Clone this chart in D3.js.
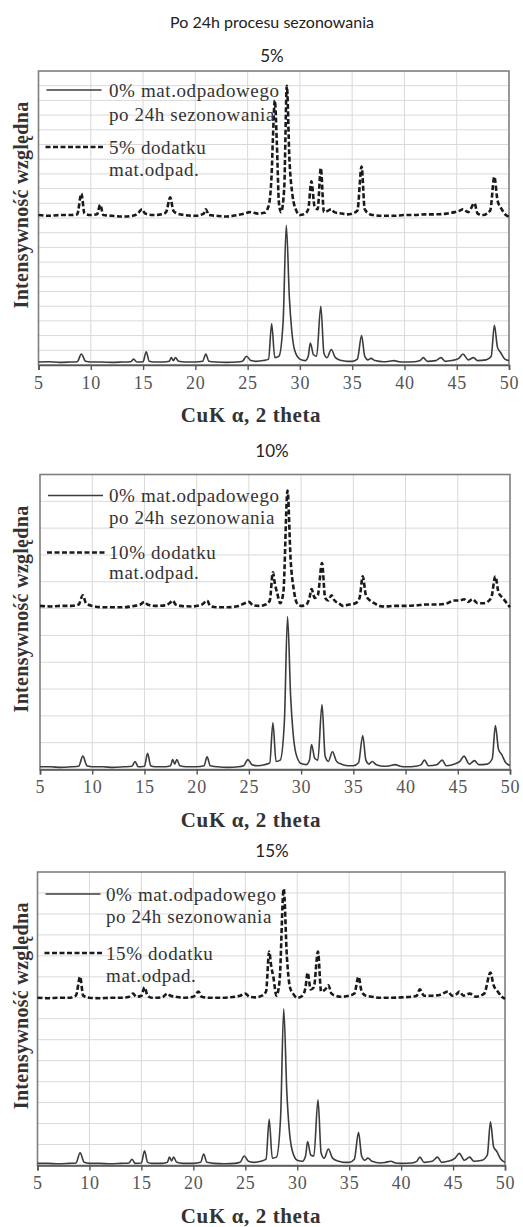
<!DOCTYPE html>
<html><head><meta charset="utf-8">
<script src="https://cdn.jsdelivr.net/npm/d3@7/dist/d3.min.js"></script>
<style>body{margin:0;background:#fff}svg{display:block}</style>
</head><body>
<script>
// ---------- DATA ----------
const mainTitle = "Po 24h procesu sezonowania";
const panelTitles = ["5%", "10%", "15%"];
const xTicks = [5, 10, 15, 20, 25, 30, 35, 40, 45, 50];
const xLabel = "CuK α, 2 theta";
const yLabel = "Intensywność względna";
const legendSolid = ["0% mat.odpadowego", "po 24h sezonowania"];
const legendDashed = [["5% dodatku", "mat.odpad."], ["10% dodatku", "mat.odpad."], ["15% dodatku", "mat.odpad."]];
const yMaxes = [20, 11, 14];

const solid5 = [[5,0.2],[6,0.22],[7,0.18],[8,0.2],[8.7,0.22],[9.1,0.75],[9.5,0.25],[10,0.2],[11,0.2],[12,0.18],[13,0.2],[13.8,0.22],[14.1,0.4],[14.4,0.2],[15,0.22],[15.3,0.9],[15.6,0.25],[16,0.2],[17,0.2],[17.5,0.25],[17.7,0.5],[17.9,0.3],[18.1,0.5],[18.4,0.25],[19,0.2],[20,0.2],[20.7,0.25],[21.0,0.75],[21.3,0.25],[22,0.2],[23,0.18],[24,0.2],[24.5,0.25],[24.9,0.6],[25.3,0.3],[25.8,0.25],[26.5,0.3],[27,0.4],[27.3,2.8],[27.6,0.5],[28.0,0.6],[28.4,3],[28.7,9.5],[29.0,4.5],[29.2,2.5],[29.5,1.0],[30,0.4],[30.5,0.3],[30.8,0.6],[31.0,1.5],[31.3,0.7],[31.6,0.6],[32.0,4.0],[32.3,0.8],[32.6,0.5],[33.0,1.05],[33.4,0.5],[34,0.3],[34.5,0.25],[35,0.25],[35.5,0.4],[35.9,2.0],[36.2,0.6],[36.5,0.35],[36.8,0.45],[37.2,0.3],[38,0.22],[38.5,0.25],[39,0.3],[39.5,0.22],[40,0.2],[41,0.22],[41.5,0.3],[41.8,0.5],[42.2,0.25],[43,0.3],[43.5,0.5],[43.9,0.25],[44.5,0.3],[45.2,0.45],[45.6,0.75],[46.1,0.35],[46.6,0.5],[47,0.3],[47.8,0.35],[48.3,0.6],[48.6,2.7],[48.9,1.2],[49.2,0.85],[49.6,0.4],[50,0.3]];
const dashed5 = [[5,10.2],[6,10.15],[7,10.2],[8,10.2],[8.7,10.25],[9.1,11.65],[9.4,10.3],[10,10.2],[10.6,10.25],[10.9,10.9],[11.2,10.2],[12,10.15],[13,10.1],[14,10.15],[14.5,10.3],[14.9,10.6],[15.2,10.3],[16,10.2],[16.8,10.25],[17.2,10.4],[17.6,11.4],[17.9,10.5],[18.3,10.3],[19,10.2],[20,10.15],[20.8,10.3],[21.0,10.6],[21.3,10.2],[22,10.15],[23,10.1],[24,10.2],[24.7,10.3],[25.2,10.4],[26,10.3],[26.6,10.35],[27.0,10.8],[27.3,13],[27.4,15],[27.6,18.0],[27.8,15],[28.0,11],[28.2,10.4],[28.5,12],[28.75,19.0],[29.0,14],[29.3,11.5],[29.6,10.6],[30,10.2],[30.5,10.3],[30.8,10.6],[31.1,12.5],[31.4,10.8],[31.7,10.6],[32.0,13.4],[32.3,10.4],[32.7,10.5],[33.0,10.6],[33.3,10.4],[34,10.3],[34.5,10.25],[35.0,10.3],[35.5,10.5],[35.9,13.5],[36.2,10.6],[36.6,10.3],[37,10.2],[38,10.15],[39,10.15],[40,10.2],[41,10.2],[42,10.25],[43,10.25],[44,10.3],[44.8,10.4],[45.3,10.5],[45.6,10.6],[46.1,10.4],[46.7,11.0],[47.0,10.3],[47.5,10.2],[48.2,10.5],[48.6,12.8],[48.9,11.2],[49.3,10.6],[49.7,10.2],[50,10.1]];

const solid10 = [[5,0.1],[6,0.1],[7,0.08],[8,0.1],[8.7,0.12],[9.1,0.5],[9.5,0.14],[10,0.1],[11,0.1],[12,0.08],[13,0.1],[13.8,0.12],[14.1,0.3],[14.4,0.1],[15,0.12],[15.3,0.6],[15.6,0.14],[16,0.1],[17,0.1],[17.5,0.14],[17.7,0.37],[17.9,0.2],[18.1,0.37],[18.4,0.14],[19,0.1],[20,0.1],[20.7,0.14],[21.0,0.47],[21.3,0.14],[22,0.1],[23,0.08],[24,0.1],[24.5,0.14],[24.9,0.37],[25.3,0.18],[25.8,0.14],[26.5,0.18],[27,0.25],[27.3,1.74],[27.6,0.3],[28.0,0.35],[28.4,1.8],[28.7,5.7],[29.0,2.7],[29.2,1.5],[29.5,0.6],[30,0.22],[30.5,0.18],[30.8,0.35],[31.0,0.93],[31.3,0.42],[31.6,0.35],[32.0,2.42],[32.3,0.5],[32.6,0.3],[33.0,0.66],[33.4,0.3],[34,0.18],[34.5,0.14],[35,0.14],[35.5,0.25],[35.9,1.27],[36.2,0.35],[36.5,0.2],[36.8,0.3],[37.2,0.18],[38,0.12],[38.5,0.14],[39,0.18],[39.5,0.12],[40,0.1],[41,0.12],[41.5,0.18],[41.8,0.35],[42.2,0.14],[43,0.18],[43.5,0.35],[43.9,0.14],[44.5,0.18],[45.2,0.3],[45.6,0.5],[46.1,0.2],[46.6,0.33],[47,0.18],[47.8,0.2],[48.3,0.4],[48.6,1.64],[48.9,0.75],[49.2,0.56],[49.6,0.25],[50,0.15]];
const dashed10 = [[5,6.1],[6,6.08],[7,6.1],[8,6.1],[8.7,6.15],[9.1,6.5],[9.4,6.2],[10,6.1],[11,6.05],[12,6.05],[13,6.05],[14,6.1],[14.6,6.15],[15.0,6.25],[15.3,6.15],[16,6.1],[17,6.12],[17.4,6.2],[17.7,6.3],[18.0,6.15],[18.5,6.1],[19.5,6.08],[20.5,6.15],[21,6.3],[21.3,6.1],[22,6.05],[23,6.05],[24,6.1],[24.6,6.2],[25.0,6.25],[25.4,6.12],[26,6.1],[26.6,6.15],[27.0,6.3],[27.3,7.35],[27.5,6.9],[27.7,6.6],[28.0,6.2],[28.3,6.6],[28.7,10.4],[29.0,7.8],[29.3,6.7],[29.6,6.2],[30,6.1],[30.5,6.15],[30.8,6.4],[31.0,6.73],[31.3,6.4],[31.6,6.5],[32.0,7.7],[32.3,6.4],[32.6,6.3],[32.9,6.5],[33.2,6.3],[33.6,6.2],[34,6.1],[34.6,6.15],[35.2,6.2],[35.6,6.4],[35.9,7.2],[36.2,6.5],[36.6,6.3],[37,6.2],[37.5,6.1],[38,6.08],[39,6.1],[40,6.1],[41,6.12],[42,6.15],[43,6.15],[44,6.2],[44.6,6.3],[45.2,6.3],[45.6,6.35],[46.0,6.25],[46.4,6.35],[46.9,6.2],[47.5,6.2],[48.2,6.4],[48.6,7.2],[48.9,6.6],[49.3,6.4],[49.7,6.2],[50,6.05]];

const solid15 = [[5,0.1],[6,0.1],[7,0.08],[8,0.1],[8.7,0.12],[9.1,0.6],[9.5,0.15],[10,0.1],[11,0.1],[12,0.08],[13,0.1],[13.8,0.12],[14.1,0.3],[14.4,0.1],[15,0.12],[15.3,0.7],[15.6,0.15],[16,0.1],[17,0.1],[17.5,0.15],[17.7,0.4],[17.9,0.22],[18.1,0.4],[18.4,0.15],[19,0.1],[20,0.1],[20.7,0.15],[21.0,0.55],[21.3,0.15],[22,0.1],[23,0.08],[24,0.1],[24.5,0.15],[24.9,0.45],[25.3,0.2],[25.8,0.15],[26.5,0.2],[27,0.3],[27.3,2.2],[27.6,0.35],[28.0,0.4],[28.4,2.3],[28.7,7.47],[29.0,3.5],[29.2,1.9],[29.5,0.75],[30,0.25],[30.5,0.2],[30.8,0.45],[31.0,1.14],[31.3,0.5],[31.6,0.45],[32.0,3.13],[32.3,0.6],[32.6,0.35],[33.0,0.79],[33.4,0.35],[34,0.2],[34.5,0.15],[35,0.15],[35.5,0.3],[35.9,1.58],[36.2,0.45],[36.5,0.25],[36.8,0.35],[37.2,0.2],[38,0.12],[38.5,0.15],[39,0.2],[39.5,0.12],[40,0.1],[41,0.12],[41.5,0.2],[41.8,0.4],[42.2,0.15],[43,0.2],[43.5,0.4],[43.9,0.15],[44.5,0.2],[45.2,0.35],[45.6,0.58],[46.1,0.25],[46.6,0.4],[47,0.2],[47.8,0.25],[48.3,0.5],[48.6,2.09],[48.9,0.9],[49.2,0.68],[49.6,0.3],[50,0.15]];
const dashed15 = [[5,8.0],[6,7.98],[7,8.0],[8,8.0],[8.7,8.1],[9.1,9.0],[9.4,8.1],[10,8.0],[11,7.98],[12,8.0],[13,8.0],[13.8,8.05],[14.2,8.2],[14.5,8.05],[15.0,8.1],[15.3,8.5],[15.6,8.1],[16,8.0],[17,8.02],[17.5,8.2],[17.8,8.1],[18.3,8.05],[19,8.0],[20,8.05],[20.5,8.3],[20.8,8.05],[21.5,8.0],[22.5,8.0],[23.5,8.02],[24.5,8.1],[25.0,8.2],[25.4,8.05],[26,8.02],[26.6,8.1],[27.0,8.3],[27.3,10.2],[27.5,9.5],[27.7,9.0],[28.0,8.1],[28.3,8.8],[28.7,13.2],[29.0,10],[29.3,8.5],[29.6,8.2],[30.0,8.0],[30.5,8.1],[30.8,8.5],[31.0,9.2],[31.3,8.4],[31.6,8.5],[32.0,10.2],[32.3,8.3],[32.7,8.4],[33.0,8.6],[33.3,8.2],[33.7,8.1],[34.2,8.05],[35,8.1],[35.5,8.2],[35.9,9.0],[36.2,8.3],[36.6,8.1],[37.2,8.05],[38,8.0],[39,8.0],[40,8.02],[41,8.05],[41.5,8.1],[41.8,8.4],[42.2,8.1],[43,8.1],[43.8,8.15],[44.5,8.3],[44.9,8.1],[45.4,8.2],[45.6,8.3],[46.0,8.1],[46.6,8.2],[47.2,8.05],[48.0,8.2],[48.6,9.2],[48.9,8.6],[49.3,8.3],[49.7,8.05],[50,7.95]];

const solidSeries = [solid5, solid10, solid15];
const dashedSeries = [dashed5, dashed10, dashed15];

// ---------- LAYOUT ----------
const W = 523, H = 1227;
const layout = [
  {top: 71, bottom: 365, left: 38.5, right: 509, titleY: 55, legY: [19, 43, 76, 98], legTextX: 109},
  {top: 474.5, bottom: 769.5, left: 40, right: 510, titleY: 450, legY: [21, 43, 78, 98], legTextX: 109},
  {top: 872, bottom: 1165.5, left: 37.5, right: 505, titleY: 850, legY: [22, 44, 81, 103], legTextX: 106}
];
const serif = "Liberation Serif";
const sans = "Lato";

const svg = d3.select("body").append("svg").attr("width", W).attr("height", H);
svg.append("rect").attr("width", W).attr("height", H).attr("fill", "#fff");

svg.append("text").attr("x", 272).attr("y", 21).attr("text-anchor", "middle")
  .attr("dominant-baseline", "central").attr("font-family", sans).attr("font-size", 16)
  .attr("fill", "#222").text(mainTitle);

layout.forEach((L, i) => {
  const x = d3.scaleLinear().domain([5, 50]).range([L.left, L.right]);
  const y = d3.scaleLinear().domain([0, yMaxes[i]]).range([L.bottom, L.top]);
  const g = svg.append("g");

  g.append("text").attr("x", 272).attr("y", L.titleY).attr("text-anchor", "middle")
    .attr("dominant-baseline", "central").attr("font-family", sans).attr("font-size", 17)
    .attr("fill", "#222").text(panelTitles[i]);

  // gridlines
  g.append("g").selectAll("line").data(d3.range(1, yMaxes[i])).join("line")
    .attr("x1", L.left).attr("x2", L.right).attr("y1", d => y(d)).attr("y2", d => y(d))
    .attr("stroke", "#d9d9d9").attr("stroke-width", 1);
  g.append("g").selectAll("line").data(xTicks.slice(1, -1)).join("line")
    .attr("x1", d => x(d)).attr("x2", d => x(d)).attr("y1", L.top).attr("y2", L.bottom)
    .attr("stroke", "#d9d9d9").attr("stroke-width", 1);

  // border
  g.append("rect").attr("x", L.left).attr("y", L.top).attr("width", L.right - L.left)
    .attr("height", L.bottom - L.top).attr("fill", "none").attr("stroke", "#7f7f7f").attr("stroke-width", 1.6);

  // x axis
  const ax = g.append("g").attr("transform", `translate(0,${L.bottom})`)
    .call(d3.axisBottom(x).tickValues(xTicks).tickSize(5).tickPadding(6).tickFormat(d3.format("d")));
  ax.attr("font-family", serif).attr("font-size", 18);
  ax.select(".domain").attr("stroke", "#555").attr("stroke-width", 1.6);
  ax.selectAll(".tick line").attr("stroke", "#555").attr("stroke-width", 1.4);
  ax.selectAll(".tick text").attr("font-family", serif).attr("font-size", 18).attr("fill", "#555")
    .attr("letter-spacing", 0.8);

  g.append("text").attr("x", 251).attr("y", L.bottom + 50).attr("text-anchor", "middle")
    .attr("dominant-baseline", "central").attr("font-family", serif).attr("font-weight", "bold")
    .attr("font-size", 21).attr("letter-spacing", 0.6).attr("fill", "#333").text(xLabel);

  g.append("text").attr("transform", `translate(21,${(L.top + L.bottom) / 2 - 13}) rotate(-90)`)
    .attr("text-anchor", "middle").attr("dominant-baseline", "central").attr("font-family", serif)
    .attr("font-weight", "bold").attr("font-size", 20).attr("letter-spacing", 0.3).attr("fill", "#333").text(yLabel);

  const line = d3.line().x(d => x(d[0])).y(d => y(d[1])).curve(d3.curveMonotoneX);
  g.append("path").datum(solidSeries[i]).attr("d", line).attr("fill", "none")
    .attr("stroke", "#3c3c3c").attr("stroke-width", 1.6).attr("stroke-linejoin", "round");
  g.append("path").datum(dashedSeries[i]).attr("d", line).attr("fill", "none")
    .attr("stroke", "#1a1a1a").attr("stroke-width", 2.6).attr("stroke-dasharray", "5,2.5");

  // legend
  const ly = L.legY.map(v => L.top + v);
  g.append("line").attr("x1", L.left + 8).attr("x2", L.left + 63).attr("y1", ly[0]).attr("y2", ly[0])
    .attr("stroke", "#3c3c3c").attr("stroke-width", 1.6);
  g.append("line").attr("x1", L.left + 7).attr("x2", L.left + 67).attr("y1", ly[2]).attr("y2", ly[2])
    .attr("stroke", "#1a1a1a").attr("stroke-width", 2.6).attr("stroke-dasharray", "5,2.5");
  const texts = [legendSolid[0], legendSolid[1], legendDashed[i][0], legendDashed[i][1]];
  g.append("g").selectAll("text").data(texts).join("text")
    .attr("x", L.legTextX).attr("y", (d, k) => ly[k]).attr("dominant-baseline", "central")
    .attr("font-family", serif).attr("font-size", 19).attr("letter-spacing", 0.6)
    .attr("fill", "#333").text(d => d);
});
</script>
</body></html>
